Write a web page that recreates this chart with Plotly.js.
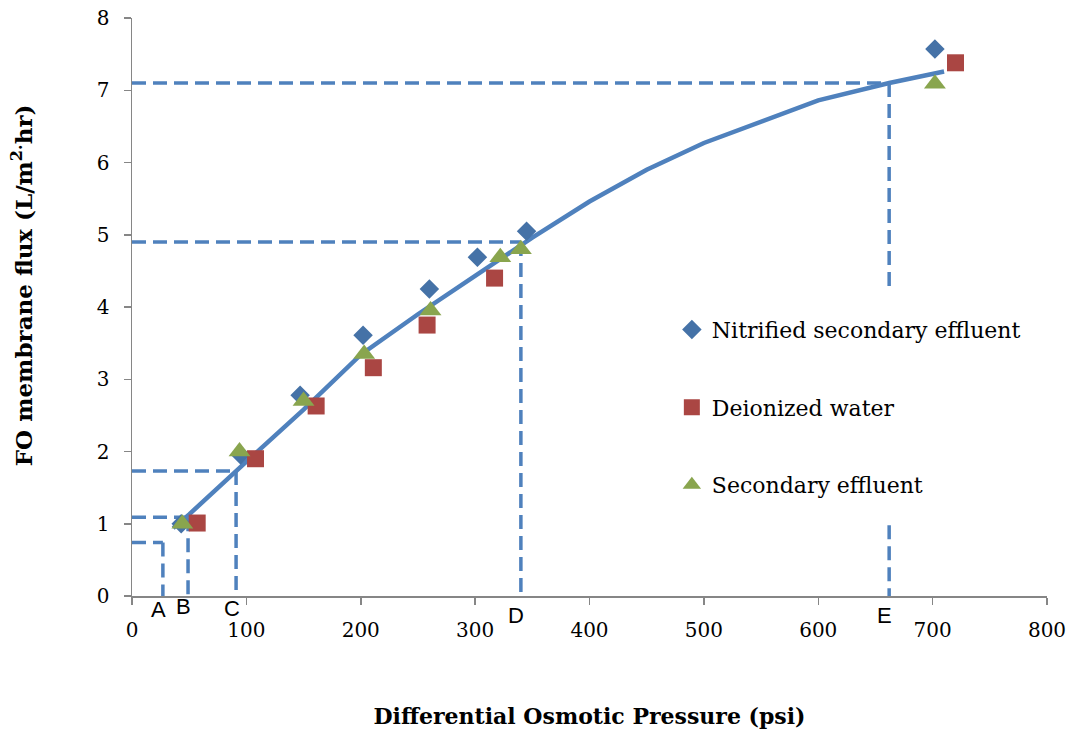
<!DOCTYPE html>
<html>
<head>
<meta charset="utf-8">
<script src="https://cdn.plot.ly/plotly-3.0.1.min.js"></script>
<style>html,body{margin:0;padding:0;background:#fff;}#chart{width:1072px;height:729px;}</style>
</head>
<body>
<div id="chart"></div>
<script>
// Measured series
const nitrifiedX = [43, 95, 147, 202, 260, 302, 345, 702];
const nitrifiedY = [1.00, 1.95, 2.78, 3.61, 4.25, 4.69, 5.05, 7.57];

const deionizedX = [57, 108, 161, 211, 258, 317, 720];
const deionizedY = [1.01, 1.90, 2.63, 3.16, 3.75, 4.40, 7.38];

const secondaryX = [44, 94, 150, 203, 261, 322, 340, 702];
const secondaryY = [1.00, 2.00, 2.70, 3.35, 3.95, 4.69, 4.80, 7.09];

// Fitted curve
const curveX = [36, 50, 100, 150, 200, 250, 300, 350, 400, 450, 500, 600, 662, 710];
const curveY = [0.94, 1.13, 1.86, 2.58, 3.34, 3.90, 4.43, 4.96, 5.46, 5.90, 6.27, 6.86, 7.10, 7.26];

// Reference points A–E (x in psi, y = flux)
const refLabels = ["A", "B", "C", "D", "E"];
const refX = [27, 49, 91, 340, 662];
const refY = [0.74, 1.09, 1.73, 4.90, 7.10];
const eGapTop = 4.25, eGapBottom = 0.98;

const xTicks = [0, 100, 200, 300, 400, 500, 600, 700, 800];
const yTicks = [0, 1, 2, 3, 4, 5, 6, 7, 8];

const xTitle = "Differential Osmotic Pressure (psi)";
const yTitle = "FO membrane flux (L/m<sup>2.</sup>hr)";

const blue = "#4F81BD";
const serif = "DejaVu Serif, Liberation Serif, serif";
const dashStyle = {color: blue, width: 3.5, dash: "14px,7px"};

const traces = [];
// guide (dashed) lines
refX.forEach((x, i) => {
  const y = refY[i];
  traces.push({x: [0, x], y: [y, y], mode: "lines", line: dashStyle, showlegend: false, hoverinfo: "skip"});
  if (refLabels[i] === "E") {
    traces.push({x: [x, x], y: [y, eGapTop], mode: "lines", line: dashStyle, showlegend: false, hoverinfo: "skip"});
    traces.push({x: [x, x], y: [eGapBottom, 0], mode: "lines", line: dashStyle, showlegend: false, hoverinfo: "skip"});
  } else {
    traces.push({x: [x, x], y: [y, 0], mode: "lines", line: dashStyle, showlegend: false, hoverinfo: "skip"});
  }
});
traces.push({x: curveX, y: curveY, mode: "lines", line: {color: blue, width: 4.5}, showlegend: false, hoverinfo: "skip"});
traces.push({x: nitrifiedX, y: nitrifiedY, mode: "markers", name: "Nitrified secondary effluent", legendgroup: "a",
  marker: {symbol: "diamond", size: 15, color: "#4572A7"}});
traces.push({x: deionizedX, y: deionizedY, mode: "markers", name: "Deionized water", legendgroup: "b",
  marker: {symbol: "square", size: 17, color: "#AA4643"}});
traces.push({x: secondaryX, y: secondaryY, mode: "markers", name: "Secondary effluent", legendgroup: "c",
  marker: {symbol: "triangle-up", size: 19, color: "#89A54E"}});

const labelY = [-0.049, -0.043, -0.047, -0.059, -0.059];
const annotations = refLabels.map((t, i) => ({
  x: refX[i] - 4, y: labelY[i], xref: "x", yref: "paper", text: t, showarrow: false,
  font: {family: "Liberation Sans, Arial, sans-serif", size: 22, color: "#000"}
}));
annotations.push({
  x: -0.12, y: 0.538, xref: "paper", yref: "paper", xanchor: "center", yanchor: "middle",
  text: "<b>" + yTitle + "</b>", textangle: -90, showarrow: false,
  font: {family: serif, size: 23, color: "#000"}
});

const layout = {
  width: 1072, height: 729,
  margin: {l: 132, r: 25, t: 18, b: 133},
  paper_bgcolor: "#fff", plot_bgcolor: "#fff",
  showlegend: true,
  legend: {x: 0.59, y: 0.497, xanchor: "left", yanchor: "top", traceorder: "grouped", tracegroupgap: 46,
    font: {family: serif, size: 22, color: "#000"}, bgcolor: "rgba(0,0,0,0)"},
  xaxis: {
    range: [0, 800], tickvals: xTicks, ticktext: xTicks.map(String),
    showgrid: false, zeroline: false, showline: true, linecolor: "#868686", linewidth: 1.5,
    ticks: "outside", ticklen: 7, tickcolor: "#868686", tickwidth: 1.5, ticklabelstandoff: 8,
    tickfont: {family: serif, size: 20, color: "#000"},
    title: {text: "<b>" + xTitle + "</b>", font: {family: serif, size: 22, color: "#000"}, standoff: 70}
  },
  yaxis: {
    range: [0, 8], tickvals: yTicks, ticktext: yTicks.map(String),
    showgrid: false, zeroline: false, showline: true, linecolor: "#868686", linewidth: 1.5,
    ticks: "outside", ticklen: 7, tickcolor: "#868686", tickwidth: 1.5, ticklabelstandoff: 10,
    tickfont: {family: serif, size: 20, color: "#000"}
  },
  annotations: annotations
};

Plotly.newPlot("chart", traces, layout, {displayModeBar: false, staticPlot: true});
</script>
</body>
</html>
